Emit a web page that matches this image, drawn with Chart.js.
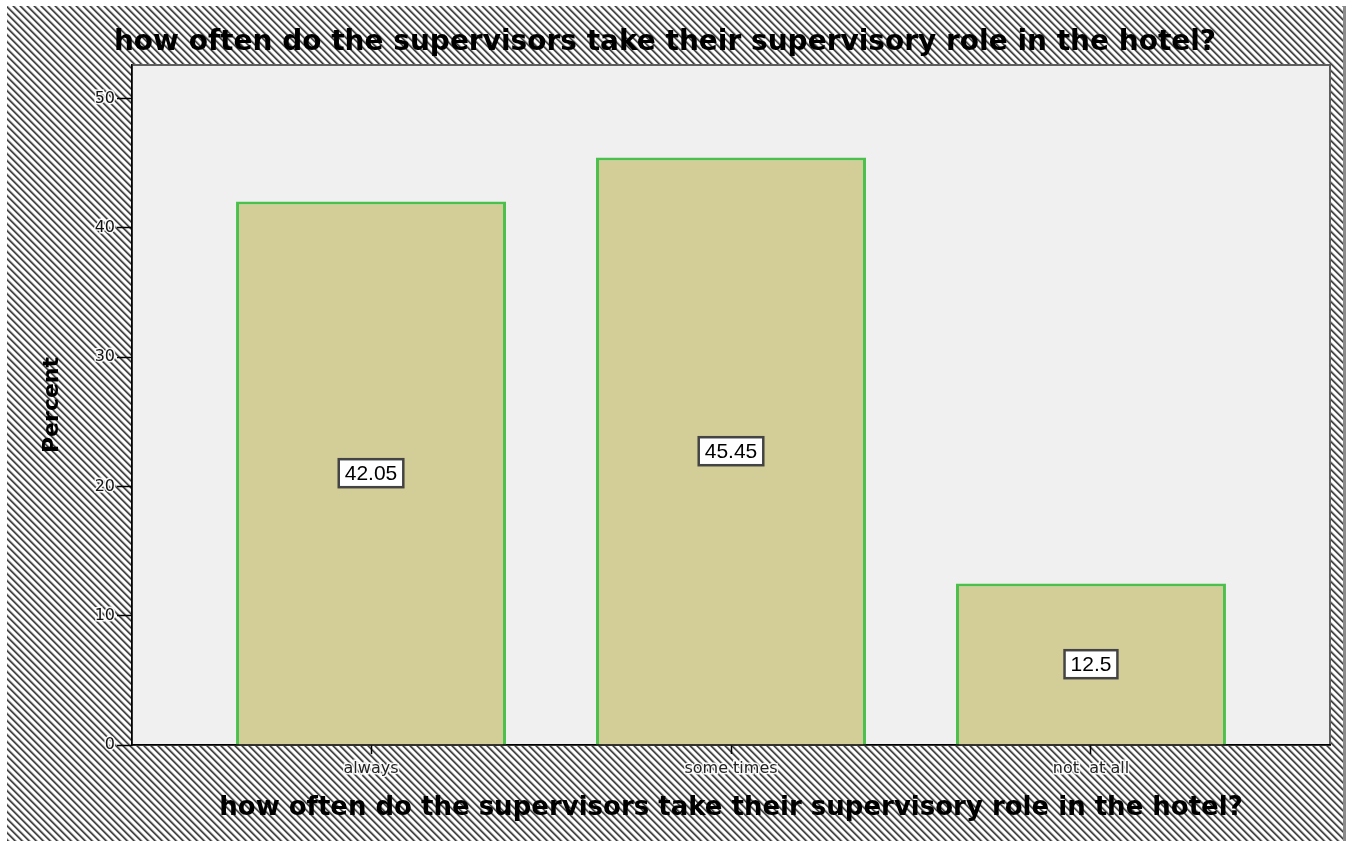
<!DOCTYPE html>
<html>
<head>
<meta charset="utf-8">
<script src="https://cdn.jsdelivr.net/npm/chart.js@4.4.1/dist/chart.umd.min.js"></script>
<style>
  html, body { margin: 0; padding: 0; background: #ffffff; }
  #wrap { width: 1352px; height: 841px; position: relative; }
</style>
</head>
<body>
<div id="wrap"><canvas id="c"></canvas></div>
<script>
// Frequency table: share of answers per category
const categories = ['always', 'some times', 'not  at all'];
const percents = [42.05, 45.45, 12.5];
const percentTicks = [0, 10, 20, 30, 40, 50];
const chartTitle = 'how often do the supervisors take their supervisory role in the hotel?';
const yTitle = 'Percent';

// Diagonal hatch used for the frame around the plot
function makeHatch() {
  const p = 7;
  const tile = document.createElement('canvas');
  tile.width = p; tile.height = p;
  const tctx = tile.getContext('2d');
  const img = tctx.createImageData(p, p);
  const shade = [55, 110, 200, 253, 255, 253, 160];
  for (let y = 0; y < p; y++) {
    for (let x = 0; x < p; x++) {
      const d = (((x - y) % p) + p) % p;
      const v = shade[d];
      const i = (y * p + x) * 4;
      img.data[i] = v; img.data[i + 1] = v; img.data[i + 2] = v; img.data[i + 3] = 255;
    }
  }
  tctx.putImageData(img, 0, 0);
  return tile;
}

const framePlugin = {
  id: 'frame',
  beforeDraw(chart) {
    const { ctx, chartArea: a, width, height } = chart;
    ctx.save();
    ctx.fillStyle = '#ffffff';
    ctx.fillRect(0, 0, width, height);
    ctx.fillStyle = ctx.createPattern(makeHatch(), 'repeat');
    ctx.fillRect(7, 6, 1337, height - 6);
    ctx.fillStyle = '#8a8a8a';
    ctx.fillRect(1343, 6, 3, height - 6);
    // plot background and outline
    ctx.fillStyle = '#f0f0f0';
    ctx.fillRect(a.left, a.top, a.right - a.left, a.bottom - a.top);
    ctx.strokeStyle = '#5e5e5e';
    ctx.lineWidth = 2;
    ctx.strokeRect(a.left, a.top, a.right - a.left, a.bottom - a.top);
    ctx.restore();
  }
};

const valueLabelPlugin = {
  id: 'valueLabels',
  afterDatasetsDraw(chart) {
    const { ctx } = chart;
    const meta = chart.getDatasetMeta(0);
    const yScale = chart.scales.y;
    ctx.save();
    ctx.font = '21px "Liberation Sans", Arial, sans-serif';
    ctx.textAlign = 'center';
    ctx.textBaseline = 'middle';
    meta.data.forEach((bar, i) => {
      const v = percents[i];
      const text = String(v);
      const cx = bar.x;
      const cy = yScale.getPixelForValue(v / 2);
      const w = ctx.measureText(text).width + 12;
      const h = 28;
      ctx.fillStyle = '#ffffff';
      ctx.fillRect(cx - w / 2, cy - h / 2, w, h);
      ctx.strokeStyle = '#444444';
      ctx.lineWidth = 2.5;
      ctx.strokeRect(cx - w / 2, cy - h / 2, w, h);
      ctx.fillStyle = '#000000';
      ctx.fillText(text, cx, cy + 1);
    });
    ctx.restore();
  }
};

const tickFont = { family: '"DejaVu Sans", sans-serif', size: 16 };

new Chart(document.getElementById('c'), {
  type: 'bar',
  data: {
    datasets: [{
      data: categories.map((c, i) => ({ x: i, y: percents[i] })),
      backgroundColor: '#d3cd98',
      borderColor: '#4cc04c',
      borderWidth: 3,
      borderSkipped: 'start',
      barPercentage: 0.75,
      categoryPercentage: 1
    }]
  },
  options: {
    responsive: true,
    maintainAspectRatio: false,
    animation: false,
    layout: { padding: { left: 0, right: 22, top: 0, bottom: 0 } },
    plugins: {
      legend: { display: false },
      tooltip: { enabled: false },
      title: {
        display: true,
        text: chartTitle,
        color: '#000000',
        font: { family: '"DejaVu Sans", sans-serif', size: 28, weight: 'bold', lineHeight: 1.2 },
        padding: { top: 26, bottom: 5.4 }
      }
    },
    scales: {
      x: {
        type: 'linear',
        min: -0.664,
        max: 2.664,
        offset: false,
        afterBuildTicks: s => { s.ticks = categories.map((c, i) => ({ value: i })); },
        afterFit: s => { s.height = 96; },
        ticks: {
          autoSkip: false,
          maxRotation: 0,
          padding: 5,
          color: '#222222',
          font: tickFont,
          textStrokeColor: 'rgba(255,255,255,0.9)',
          textStrokeWidth: 3,
          callback: v => categories[v]
        },
        grid: { drawOnChartArea: false, offset: false, tickLength: 9, tickColor: '#000000', tickWidth: 1.5 },
        border: { color: '#000000', width: 1.5 },
        title: {
          display: true,
          text: chartTitle,
          color: '#000000',
          font: { family: '"DejaVu Sans", sans-serif', size: 26, weight: 'bold', lineHeight: 1.2 },
          padding: { top: 0, bottom: 17 }
        }
      },
      y: {
        min: 0,
        max: 52.6,
        afterBuildTicks: s => { s.ticks = percentTicks.map(v => ({ value: v })); },
        afterFit: s => { s.width = 132; },
        ticks: {
          padding: 2,
          color: '#111111',
          font: tickFont,
          textStrokeColor: 'rgba(255,255,255,0.9)',
          textStrokeWidth: 3
        },
        grid: { drawOnChartArea: false, tickLength: 15, tickColor: '#000000', tickWidth: 1.5 },
        border: { color: '#000000', width: 1.5 },
        title: {
          display: true,
          text: yTitle,
          color: '#000000',
          font: { family: '"DejaVu Sans", sans-serif', size: 22, weight: 'bold', lineHeight: 1.2 },
          padding: { top: 39, bottom: 0 }
        }
      }
    }
  },
  plugins: [framePlugin, valueLabelPlugin]
});
</script>
</body>
</html>
